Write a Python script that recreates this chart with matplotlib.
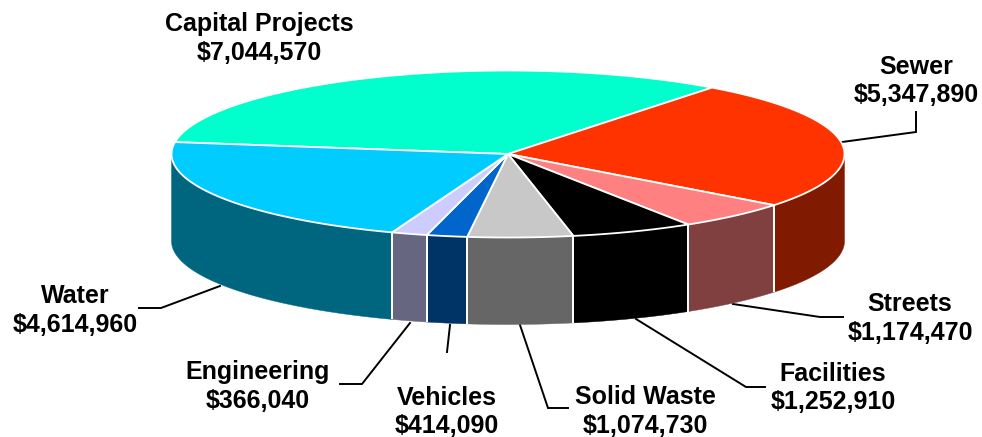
import numpy as np
import matplotlib
matplotlib.use("Agg")
import matplotlib.pyplot as plt
from matplotlib.patches import Polygon

categories = ["Capital Projects", "Sewer", "Streets", "Facilities",
              "Solid Waste", "Vehicles", "Engineering", "Water"]
values = [7044570, 5347890, 1174470, 1252910, 1074730, 414090, 366040, 4614960]
top_colors = ["#00FFCC", "#FF3300", "#FF8080", "#000000",
              "#C8C8C8", "#0066CC", "#CCCCFF", "#00CCFF"]
side_colors = ["#008066", "#801A00", "#804040", "#000000",
               "#666666", "#003366", "#666680", "#006680"]

# layout, in pixels of the 982x437 picture
CX, CY, RX, RY, DEPTH = 508.0, 154.0, 336.5, 83.5, 87.0
START_DEG = 171.8   # left edge of the Capital Projects slice, going clockwise
EDGE = "#FFFFFF"
label_xy = {
    "Capital Projects": (259, 24, 53), "Sewer": (916, 67, 95),
    "Streets": (910, 304, 333), "Facilities": (833, 374, 402),
    "Solid Waste": (645, 397, 426), "Vehicles": (447, 398, 426),
    "Engineering": (258, 372, 401), "Water": (75, 296, 325),
}
leaders = {
    "Sewer": [(842, 142), (916, 132), (916, 112)],
    "Streets": [(733, 304), (820, 317), (843, 317)],
    "Facilities": [(636, 319), (746, 387), (765, 387)],
    "Solid Waste": [(520, 325), (548, 408), (568, 408)],
    "Vehicles": [(450, 325), (447, 352)],
    "Engineering": [(410, 323), (362, 384), (340, 384)],
    "Water": [(220, 286), (161, 308), (139, 308)],
}

plt.rcParams["font.family"] = ["Liberation Sans", "DejaVu Sans"]
fig = plt.figure(figsize=(9.82, 4.37), dpi=100, facecolor="white")
ax = fig.add_axes([0, 0, 1, 1])
ax.set_xlim(0, 982)
ax.set_ylim(437, 0)
ax.axis("off")


def rim(a0, a1, n=120, dy=0.0):
    t = np.radians(np.linspace(a0, a1, n))
    return np.column_stack([CX + RX * np.cos(t), CY - RY * np.sin(t) + dy])


sweeps = np.array(values, dtype=float) / sum(values) * 360.0
ends = START_DEG - np.cumsum(sweeps)
starts = ends + sweeps

# visible outer walls: the part of each slice in the front half of the pie
for a0, a1, col in zip(starts, ends, side_colors):
    for shift in (0, -360):
        hi = min(a0 + shift, 0.0)
        lo = max(a1 + shift, -180.0)
        if hi > lo:
            pts = np.vstack([rim(hi, lo), rim(lo, hi, dy=DEPTH)])
            ax.add_patch(Polygon(pts, closed=True, facecolor=col, edgecolor=col,
                                 linewidth=0.3, zorder=2))
            for a in (hi, lo):
                if -180.0 < a < 0.0:
                    ends_xy = np.vstack([rim(a, a, 1), rim(a, a, 1, dy=DEPTH)])
                    ax.plot(ends_xy[:, 0], ends_xy[:, 1], color=EDGE, lw=1.3,
                            solid_capstyle="butt", zorder=2.5)

# top faces
for a0, a1, col in zip(starts, ends, top_colors):
    pts = np.vstack([[CX, CY], rim(a0, a1)])
    ax.add_patch(Polygon(pts, closed=True, facecolor=col, edgecolor=EDGE,
                         linewidth=1.3, joinstyle="round", zorder=3))

# leader lines and labels
for name, pts in leaders.items():
    xs, ys = zip(*pts)
    ax.plot(xs, ys, color="black", lw=1.4, zorder=1, solid_joinstyle="miter")

for name, val in zip(categories, values):
    x, y1, y2 = label_xy[name]
    ax.text(x, y1, name, ha="center", va="center", fontsize=18,
            fontweight="bold", color="black", zorder=5)
    ax.text(x, y2, f"${val:,}", ha="center", va="center", fontsize=18,
            fontweight="bold", color="black", zorder=5)

fig.savefig("out.png", dpi=100, facecolor="white")
